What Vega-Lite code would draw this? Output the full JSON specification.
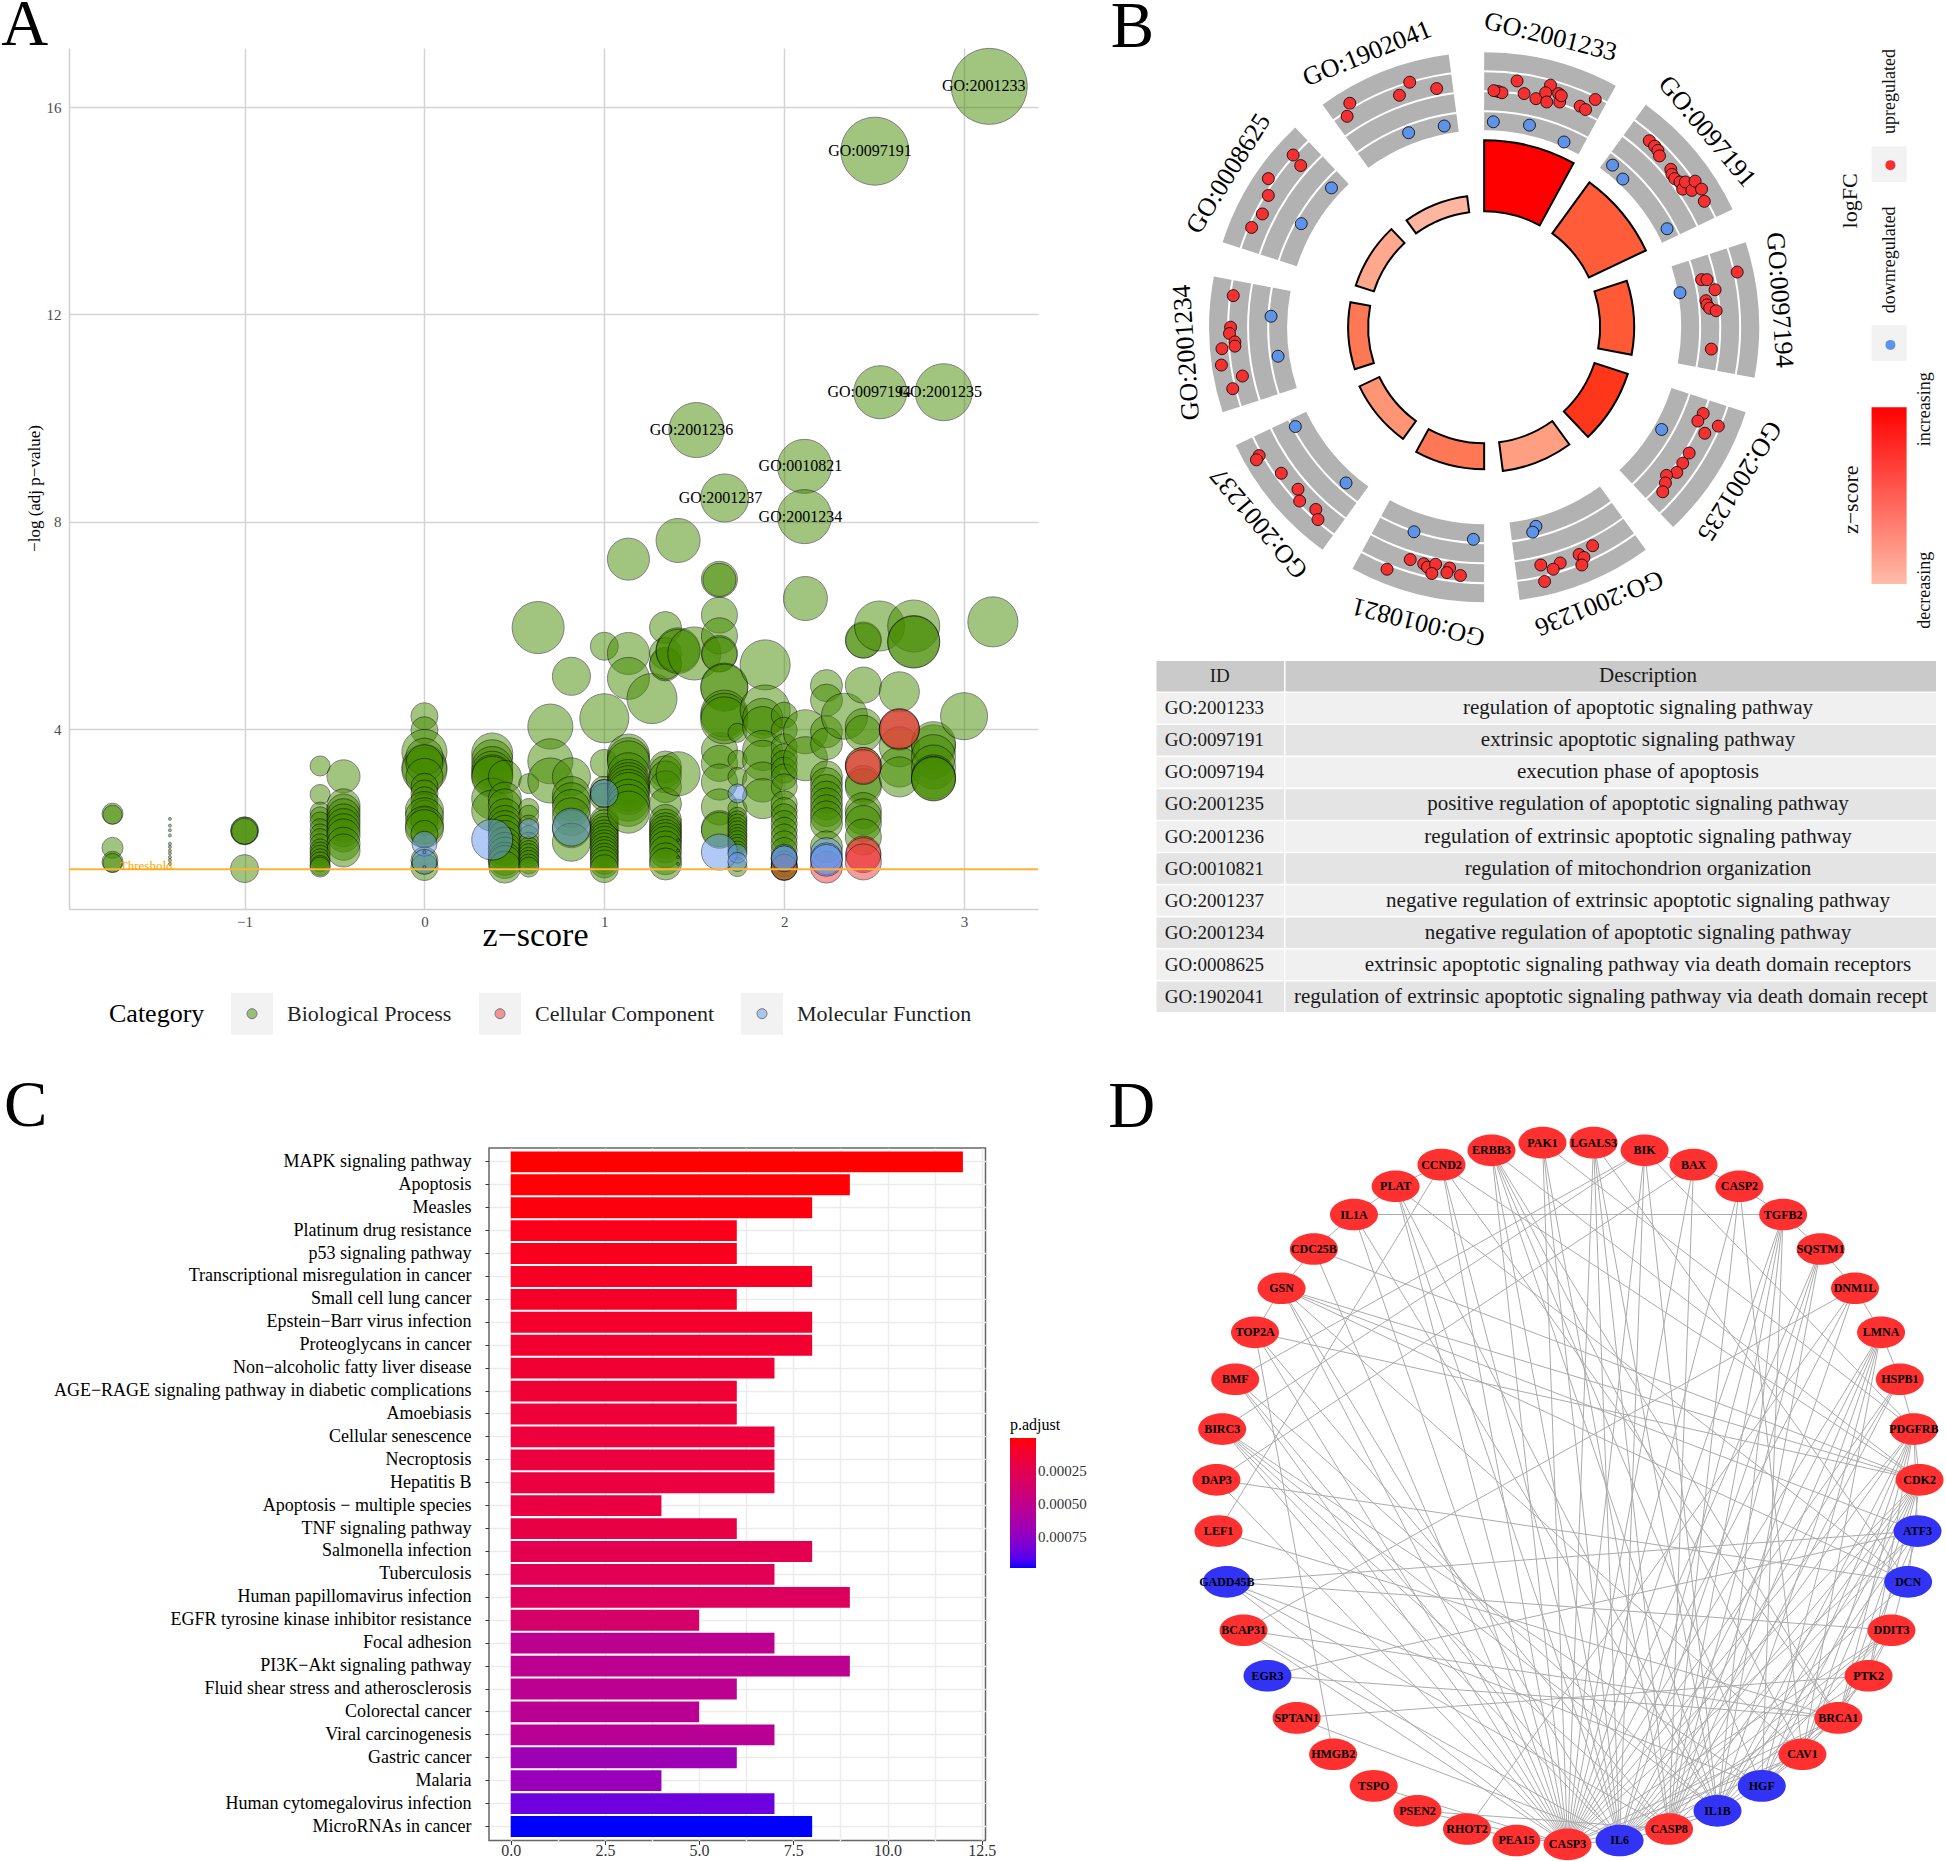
{"$schema":"https://vega.github.io/schema/vega-lite/v6.json","background":"white","padding":{"left":1,"top":-7,"right":0,"bottom":0},"config":{"font":"Liberation Serif","view":{"stroke":null}},"bounds":"flush","spacing":1031,
"datasets":{
"sectors":[{"id":"GO:2001233","start":0,"end":28.6,"r":187,"z":3.14,"lx":835,"ly":85,"angle":14},{"id":"GO:0097191","start":36,"end":64.6,"r":179,"z":2.5,"lx":1125,"ly":310,"angle":50},{"id":"GO:0097194","start":72,"end":100.6,"r":150,"z":2.53,"lx":1260,"ly":710,"angle":86},{"id":"GO:2001235","start":108,"end":136.6,"r":151,"z":2.89,"lx":1185,"ly":1140,"angle":122},{"id":"GO:2001236","start":144,"end":172.6,"r":145,"z":1.51,"lx":925,"ly":1430,"angle":158},{"id":"GO:0010821","start":180,"end":208.6,"r":142,"z":2.11,"lx":590,"ly":1475,"angle":194},{"id":"GO:2001237","start":216,"end":244.6,"r":138,"z":1.67,"lx":295,"ly":1240,"angle":230},{"id":"GO:2001234","start":252,"end":280.6,"r":136,"z":2.11,"lx":160,"ly":835,"angle":266},{"id":"GO:0008625","start":288,"end":316.6,"r":135,"z":1.35,"lx":238,"ly":410,"angle":302},{"id":"GO:1902041","start":324,"end":352.6,"r":132,"z":1.1,"lx":495,"ly":125,"angle":338}],
"genes":[{"f":"up","x":738,"y":215},{"f":"up","x":745,"y":218},{"f":"up","x":730,"y":213},{"f":"up","x":773,"y":190},{"f":"up","x":786,"y":220},{"f":"up","x":808,"y":232},{"f":"up","x":835,"y":200},{"f":"up","x":826,"y":218},{"f":"up","x":828,"y":240},{"f":"up","x":850,"y":220},{"f":"up","x":852,"y":240},{"f":"up","x":855,"y":225},{"f":"up","x":890,"y":250},{"f":"up","x":900,"y":258},{"f":"up","x":918,"y":234},{"f":"down","x":729,"y":287},{"f":"down","x":796,"y":295},{"f":"down","x":860,"y":335},
{"f":"up","x":1018,"y":332},{"f":"up","x":1028,"y":345},{"f":"up","x":1034,"y":355},{"f":"up","x":1037,"y":368},{"f":"up","x":1058,"y":400},{"f":"up","x":1060,"y":412},{"f":"up","x":1065,"y":422},{"f":"up","x":1075,"y":430},{"f":"up","x":1080,"y":447},{"f":"up","x":1085,"y":430},{"f":"up","x":1097,"y":450},{"f":"up","x":1103,"y":428},{"f":"up","x":1115,"y":447},{"f":"up","x":1120,"y":476},{"f":"down","x":950,"y":390},{"f":"down","x":969,"y":423},{"f":"down","x":1051,"y":541},
{"f":"up","x":1181,"y":644},{"f":"up","x":1115,"y":662},{"f":"up","x":1125,"y":662},{"f":"up","x":1140,"y":686},{"f":"up","x":1123,"y":712},{"f":"up","x":1125,"y":722},{"f":"up","x":1130,"y":730},{"f":"up","x":1142,"y":736},{"f":"up","x":1133,"y":827},{"f":"down","x":1075,"y":693},
{"f":"up","x":1118,"y":980},{"f":"up","x":1108,"y":998},{"f":"up","x":1146,"y":1010},{"f":"up","x":1121,"y":1027},{"f":"up","x":1092,"y":1074},{"f":"up","x":1080,"y":1098},{"f":"up","x":1069,"y":1120},{"f":"up","x":1050,"y":1127},{"f":"up","x":1048,"y":1145},{"f":"up","x":1043,"y":1166},{"f":"down","x":1041,"y":1018},
{"f":"down","x":808,"y":1248},{"f":"down","x":802,"y":1262},{"f":"up","x":913,"y":1294},{"f":"up","x":888,"y":1315},{"f":"up","x":897,"y":1322},{"f":"up","x":893,"y":1340},{"f":"up","x":853,"y":1335},{"f":"up","x":840,"y":1350},{"f":"up","x":817,"y":1340},{"f":"up","x":824,"y":1379},
{"f":"down","x":582,"y":1261},{"f":"down","x":692,"y":1279},{"f":"up","x":575,"y":1327},{"f":"up","x":532,"y":1350},{"f":"up","x":600,"y":1337},{"f":"up","x":607,"y":1345},{"f":"up","x":622,"y":1338},{"f":"up","x":615,"y":1360},{"f":"up","x":648,"y":1347},{"f":"up","x":643,"y":1358},{"f":"up","x":668,"y":1365},
{"f":"down","x":362,"y":1011},{"f":"down","x":456,"y":1145},{"f":"up","x":295,"y":1080},{"f":"up","x":290,"y":1090},{"f":"up","x":336,"y":1122},{"f":"up","x":367,"y":1160},{"f":"up","x":370,"y":1188},{"f":"up","x":400,"y":1208},{"f":"up","x":404,"y":1232},
{"f":"up","x":247,"y":700},{"f":"up","x":242,"y":775},{"f":"up","x":240,"y":790},{"f":"up","x":250,"y":810},{"f":"up","x":250,"y":820},{"f":"up","x":226,"y":826},{"f":"up","x":225,"y":865},{"f":"up","x":264,"y":891},{"f":"up","x":246,"y":921},{"f":"down","x":317,"y":749},{"f":"down","x":330,"y":844},
{"f":"up","x":358,"y":366},{"f":"up","x":372,"y":391},{"f":"up","x":312,"y":422},{"f":"up","x":312,"y":462},{"f":"up","x":301,"y":506},{"f":"up","x":281,"y":538},{"f":"down","x":429,"y":444},{"f":"down","x":373,"y":529},
{"f":"up","x":574,"y":193},{"f":"up","x":555,"y":224},{"f":"up","x":624,"y":208},{"f":"up","x":463,"y":243},{"f":"up","x":458,"y":274},{"f":"down","x":572,"y":313},{"f":"down","x":638,"y":297}],
"nodes":[{"name":"PAK1","x":792,"y":64,"reg":"up"},{"name":"LGALS3","x":890,"y":64,"reg":"up"},{"name":"BIK","x":988,"y":80,"reg":"up"},{"name":"BAX","x":1082,"y":110,"reg":"up"},{"name":"CASP2","x":1170,"y":155,"reg":"up"},{"name":"TGFB2","x":1254,"y":214,"reg":"up"},{"name":"SQSTM1","x":1326,"y":286,"reg":"up"},{"name":"DNM1L","x":1392,"y":368,"reg":"up"},{"name":"LMNA","x":1442,"y":460,"reg":"up"},{"name":"HSPB1","x":1478,"y":558,"reg":"up"},{"name":"PDGFRB","x":1505,"y":662,"reg":"up"},{"name":"CDK2","x":1516,"y":768,"reg":"up"},{"name":"ATF3","x":1512,"y":875,"reg":"down"},{"name":"DCN","x":1494,"y":981,"reg":"down"},{"name":"DDIT3","x":1462,"y":1082,"reg":"up"},{"name":"PTK2","x":1418,"y":1177,"reg":"up"},{"name":"BRCA1","x":1360,"y":1265,"reg":"up"},{"name":"CAV1","x":1291,"y":1341,"reg":"up"},{"name":"HGF","x":1213,"y":1407,"reg":"down"},{"name":"IL1B","x":1128,"y":1459,"reg":"down"},{"name":"CASP8","x":1035,"y":1497,"reg":"up"},{"name":"IL6","x":940,"y":1521,"reg":"down"},{"name":"CASP3","x":840,"y":1529,"reg":"up"},{"name":"PEA15","x":742,"y":1521,"reg":"up"},{"name":"RHOT2","x":647,"y":1497,"reg":"up"},{"name":"PSEN2","x":552,"y":1459,"reg":"up"},{"name":"TSPO","x":468,"y":1407,"reg":"up"},{"name":"HMGB2","x":390,"y":1341,"reg":"up"},{"name":"SPTAN1","x":320,"y":1265,"reg":"up"},{"name":"EGR3","x":264,"y":1177,"reg":"down"},{"name":"BCAP31","x":218,"y":1082,"reg":"up"},{"name":"GADD45B","x":186,"y":981,"reg":"down"},{"name":"LEF1","x":170,"y":875,"reg":"up"},{"name":"DAP3","x":166,"y":768,"reg":"up"},{"name":"BIRC3","x":177,"y":662,"reg":"up"},{"name":"BMF","x":202,"y":558,"reg":"up"},{"name":"TOP2A","x":240,"y":460,"reg":"up"},{"name":"GSN","x":291,"y":368,"reg":"up"},{"name":"CDC25B","x":353,"y":286,"reg":"up"},{"name":"IL1A","x":430,"y":214,"reg":"up"},{"name":"PLAT","x":510,"y":155,"reg":"up"},{"name":"CCND2","x":598,"y":110,"reg":"up"},{"name":"ERBB3","x":694,"y":80,"reg":"up"}]
},
"hconcat":[
{"vconcat":[
{"width":969,"height":861,
"encoding":{"x":{"field":"z","type":"quantitative","scale":{"domain":[-1.976,3.411],"nice":false,"zero":false},"axis":{"values":[-1,0,1,2,3],"title":"z−score","titleFontSize":34,"titleFontWeight":"normal","titleX":466,"titleY":9,"titleColor":"black","grid":true,"gridColor":"#d4d4d4","gridWidth":1.5,"domainColor":"#cfcfcf","domainWidth":1.5,"ticks":false,"labelColor":"#4d4d4d","labelFontSize":15,"labelPadding":5}},"y":{"field":"y","type":"quantitative","scale":{"domain":[0.531,17.14],"nice":false,"zero":false},"axis":{"values":[4,8,12,16],"title":"−log (adj p−value)","titleFontSize":17,"titleFontWeight":"normal","titleX":-26,"titleY":440,"titleColor":"black","grid":true,"gridColor":"#d4d4d4","gridWidth":1.5,"domainColor":"#cfcfcf","domainWidth":1.5,"ticks":false,"labelColor":"#4d4d4d","labelFontSize":15,"labelPadding":8}}},
"layer":[
{"data":{"values":[
{"c":"B","z":3.14,"y":16.4,"n":76},{"c":"B","z":2.504,"y":15.15,"n":68},{"c":"B","z":2.534,"y":10.5,"n":53},{"c":"B","z":2.887,"y":10.5,"n":57},{"c":"B","z":1.512,"y":9.77,"n":55},{"c":"B","z":2.113,"y":9.07,"n":54},{"c":"B","z":1.669,"y":8.46,"n":48},{"c":"B","z":2.113,"y":8.1,"n":54},
{"c":"B","z":-1.734,"y":2.37,"n":21},{"c":"B","z":-1.734,"y":2.35,"n":19},{"c":"B","z":-1.734,"y":1.71,"n":21},{"c":"B","z":-1.734,"y":1.44,"n":21},{"c":"B","z":-1.734,"y":1.42,"n":19},
{"c":"B","z":-1.415,"y":2.27,"n":3},{"c":"B","z":-1.415,"y":2.14,"n":3},{"c":"B","z":-1.415,"y":2.05,"n":3},{"c":"B","z":-1.415,"y":1.95,"n":3},{"c":"B","z":-1.415,"y":1.79,"n":3},{"c":"B","z":-1.415,"y":1.73,"n":3},{"c":"B","z":-1.415,"y":1.66,"n":3},{"c":"B","z":-1.415,"y":1.6,"n":3},{"c":"B","z":-1.415,"y":1.53,"n":3},{"c":"B","z":-1.415,"y":1.47,"n":3},{"c":"B","z":-1.415,"y":1.4,"n":3},
{"c":"B","z":-1,"y":2.04,"n":28},{"c":"B","z":-1,"y":2.04,"n":27},{"c":"B","z":-1,"y":2.03,"n":26},{"c":"B","z":-1,"y":1.31,"n":28},
{"c":"B","z":-0.58,"y":3.29,"n":20},{"c":"B","z":-0.58,"y":2.74,"n":20},{"c":"B","z":-0.58,"y":2.4,"n":20},{"c":"B","z":-0.58,"y":2.31,"n":20},{"c":"B","z":-0.58,"y":2.21,"n":20},{"c":"B","z":-0.58,"y":2.08,"n":20},{"c":"B","z":-0.58,"y":1.98,"n":20},{"c":"B","z":-0.58,"y":1.89,"n":20},{"c":"B","z":-0.58,"y":1.79,"n":20},{"c":"B","z":-0.58,"y":1.69,"n":20},{"c":"B","z":-0.58,"y":1.63,"n":20},{"c":"B","z":-0.58,"y":1.57,"n":20},{"c":"B","z":-0.58,"y":1.5,"n":20},{"c":"B","z":-0.58,"y":1.44,"n":20},{"c":"B","z":-0.58,"y":1.37,"n":20},{"c":"B","z":-0.58,"y":1.34,"n":20},
{"c":"B","z":-0.45,"y":3.09,"n":33},{"c":"B","z":-0.45,"y":2.53,"n":33},{"c":"B","z":-0.45,"y":2.43,"n":33},{"c":"B","z":-0.45,"y":2.34,"n":33},{"c":"B","z":-0.45,"y":2.24,"n":33},{"c":"B","z":-0.45,"y":2.15,"n":33},{"c":"B","z":-0.45,"y":2.05,"n":33},{"c":"B","z":-0.45,"y":1.95,"n":33},{"c":"B","z":-0.45,"y":1.79,"n":33},{"c":"B","z":-0.45,"y":1.66,"n":33},
{"c":"B","z":0,"y":4.25,"n":27},{"c":"B","z":0,"y":3.98,"n":27},{"c":"B","z":0,"y":3.56,"n":45},{"c":"B","z":0,"y":3.27,"n":45},{"c":"B","z":0,"y":3.21,"n":45},{"c":"B","z":0,"y":3.47,"n":37},{"c":"B","z":0,"y":3.34,"n":37},{"c":"B","z":0,"y":3.08,"n":37},{"c":"B","z":0,"y":2.89,"n":27},{"c":"B","z":0,"y":2.76,"n":27},{"c":"B","z":0,"y":2.63,"n":27},{"c":"B","z":0,"y":2.5,"n":27},{"c":"B","z":0,"y":2.43,"n":38},{"c":"B","z":0,"y":2.37,"n":27},{"c":"B","z":0,"y":2.31,"n":38},{"c":"B","z":0,"y":2.24,"n":27},{"c":"B","z":0,"y":2.15,"n":38},{"c":"B","z":0,"y":2.08,"n":38},{"c":"B","z":0,"y":1.98,"n":27},{"c":"B","z":0,"y":1.47,"n":27},{"c":"B","z":0,"y":1.34,"n":27},
{"c":"B","z":0.377,"y":3.53,"n":41},{"c":"B","z":0.377,"y":3.4,"n":41},{"c":"B","z":0.377,"y":3.27,"n":41},{"c":"B","z":0.377,"y":3.18,"n":41},{"c":"B","z":0.377,"y":3.11,"n":41},{"c":"B","z":0.377,"y":3.08,"n":41},{"c":"B","z":0.377,"y":2.66,"n":41},{"c":"B","z":0.377,"y":2.43,"n":41},
{"c":"B","z":0.447,"y":3.08,"n":33},{"c":"B","z":0.447,"y":2.66,"n":33},{"c":"B","z":0.447,"y":2.53,"n":33},{"c":"B","z":0.447,"y":2.34,"n":33},{"c":"B","z":0.447,"y":2.21,"n":33},{"c":"B","z":0.447,"y":2.11,"n":33},{"c":"B","z":0.447,"y":2.02,"n":33},{"c":"B","z":0.447,"y":1.92,"n":33},{"c":"B","z":0.447,"y":1.79,"n":33},{"c":"B","z":0.447,"y":1.69,"n":33},{"c":"B","z":0.447,"y":1.6,"n":33},{"c":"B","z":0.447,"y":1.5,"n":33},{"c":"B","z":0.447,"y":1.44,"n":33},{"c":"B","z":0.447,"y":1.34,"n":32},
{"c":"B","z":0.58,"y":2.95,"n":20},{"c":"B","z":0.58,"y":2.47,"n":20},{"c":"B","z":0.58,"y":2.34,"n":20},{"c":"B","z":0.58,"y":2.15,"n":20},{"c":"B","z":0.58,"y":1.95,"n":20},{"c":"B","z":0.58,"y":1.82,"n":20},{"c":"B","z":0.58,"y":1.73,"n":20},{"c":"B","z":0.58,"y":1.66,"n":20},{"c":"B","z":0.58,"y":1.6,"n":20},{"c":"B","z":0.58,"y":1.53,"n":20},{"c":"B","z":0.58,"y":1.47,"n":20},{"c":"B","z":0.58,"y":1.4,"n":20},{"c":"B","z":0.58,"y":1.34,"n":20},
{"c":"B","z":0.632,"y":5.96,"n":52},{"c":"B","z":0.7,"y":4.05,"n":45},{"c":"B","z":0.7,"y":3.38,"n":45},{"c":"B","z":0.7,"y":3.01,"n":45},
{"c":"B","z":0.817,"y":5.02,"n":38},{"c":"B","z":0.817,"y":3.08,"n":38},{"c":"B","z":0.817,"y":2.72,"n":38},{"c":"B","z":0.817,"y":2.6,"n":38},{"c":"B","z":0.817,"y":2.47,"n":38},{"c":"B","z":0.817,"y":2.31,"n":38},{"c":"B","z":0.817,"y":2.08,"n":38},{"c":"B","z":0.817,"y":1.82,"n":38},
{"c":"B","z":1,"y":4.21,"n":49},{"c":"B","z":1,"y":5.6,"n":28},{"c":"B","z":1,"y":3.34,"n":28},{"c":"B","z":1,"y":2.82,"n":28},{"c":"B","z":1,"y":2.76,"n":28},{"c":"B","z":1,"y":2.69,"n":28},{"c":"B","z":1,"y":2.24,"n":28},{"c":"B","z":1,"y":2.18,"n":28},{"c":"B","z":1,"y":2.11,"n":28},{"c":"B","z":1,"y":2.05,"n":28},{"c":"B","z":1,"y":1.98,"n":28},{"c":"B","z":1,"y":1.92,"n":28},{"c":"B","z":1,"y":1.86,"n":28},{"c":"B","z":1,"y":1.79,"n":28},{"c":"B","z":1,"y":1.73,"n":28},{"c":"B","z":1,"y":1.66,"n":28},{"c":"B","z":1,"y":1.6,"n":28},{"c":"B","z":1,"y":1.53,"n":28},{"c":"B","z":1,"y":1.47,"n":28},{"c":"B","z":1,"y":1.4,"n":28},{"c":"B","z":1,"y":1.31,"n":28},
{"c":"B","z":1.134,"y":7.28,"n":42},{"c":"B","z":1.134,"y":5.46,"n":42},{"c":"B","z":1.134,"y":4.98,"n":42},{"c":"B","z":1.134,"y":3.5,"n":42},{"c":"B","z":1.134,"y":3.43,"n":42},{"c":"B","z":1.134,"y":3.37,"n":42},{"c":"B","z":1.134,"y":3.14,"n":42},{"c":"B","z":1.134,"y":3.01,"n":42},{"c":"B","z":1.134,"y":2.95,"n":42},{"c":"B","z":1.134,"y":2.89,"n":42},{"c":"B","z":1.134,"y":2.82,"n":42},{"c":"B","z":1.134,"y":2.76,"n":42},{"c":"B","z":1.134,"y":2.63,"n":42},{"c":"B","z":1.134,"y":2.53,"n":42},{"c":"B","z":1.134,"y":2.4,"n":42},
{"c":"B","z":1.265,"y":4.59,"n":50},{"c":"B","z":1.34,"y":5.96,"n":32},{"c":"B","z":1.34,"y":5.46,"n":32},{"c":"B","z":1.34,"y":5.24,"n":32},{"c":"B","z":1.34,"y":5.27,"n":32},{"c":"B","z":1.34,"y":3.27,"n":32},{"c":"B","z":1.34,"y":3.18,"n":32},{"c":"B","z":1.34,"y":3.08,"n":32},{"c":"B","z":1.34,"y":2.89,"n":32},{"c":"B","z":1.34,"y":2.56,"n":32},{"c":"B","z":1.34,"y":2.24,"n":32},{"c":"B","z":1.34,"y":2.15,"n":32},{"c":"B","z":1.34,"y":2.08,"n":32},{"c":"B","z":1.34,"y":2.02,"n":32},{"c":"B","z":1.34,"y":1.95,"n":32},{"c":"B","z":1.34,"y":1.89,"n":32},{"c":"B","z":1.34,"y":1.82,"n":32},{"c":"B","z":1.34,"y":1.73,"n":32},{"c":"B","z":1.34,"y":1.63,"n":32},{"c":"B","z":1.34,"y":1.5,"n":32},{"c":"B","z":1.34,"y":1.4,"n":32},
{"c":"B","z":1.41,"y":7.64,"n":44},{"c":"B","z":1.41,"y":5.53,"n":44},{"c":"B","z":1.41,"y":5.5,"n":44},{"c":"B","z":1.41,"y":3.14,"n":44},{"c":"B","z":1.5,"y":5.46,"n":53},
{"c":"B","z":1.41,"y":1.86,"n":3},{"c":"B","z":1.41,"y":1.66,"n":3},{"c":"B","z":1.41,"y":1.53,"n":3},{"c":"B","z":1.41,"y":1.4,"n":3},
{"c":"B","z":1.64,"y":6.89,"n":36},{"c":"B","z":1.64,"y":6.88,"n":33},{"c":"B","z":1.64,"y":6.2,"n":36},{"c":"B","z":1.64,"y":5.8,"n":36},{"c":"B","z":1.64,"y":5.46,"n":36},{"c":"B","z":1.64,"y":5.44,"n":35},{"c":"B","z":1.64,"y":3.59,"n":36},{"c":"B","z":1.64,"y":3.34,"n":36},{"c":"B","z":1.64,"y":2.98,"n":36},{"c":"B","z":1.64,"y":2.5,"n":36},{"c":"B","z":1.64,"y":2.08,"n":36},{"c":"B","z":1.64,"y":2.05,"n":36},
{"c":"B","z":1.667,"y":4.82,"n":47},{"c":"B","z":1.667,"y":4.8,"n":47},{"c":"B","z":1.667,"y":4.3,"n":47},{"c":"B","z":1.667,"y":4.24,"n":47},{"c":"B","z":1.667,"y":4.17,"n":47},
{"c":"B","z":1.74,"y":3.93,"n":19},{"c":"B","z":1.74,"y":3.41,"n":19},{"c":"B","z":1.74,"y":3.08,"n":19},{"c":"B","z":1.74,"y":2.47,"n":19},{"c":"B","z":1.74,"y":2.31,"n":19},{"c":"B","z":1.74,"y":2.24,"n":19},{"c":"B","z":1.74,"y":2.18,"n":19},{"c":"B","z":1.74,"y":2.11,"n":19},{"c":"B","z":1.74,"y":2.05,"n":19},{"c":"B","z":1.74,"y":1.98,"n":19},{"c":"B","z":1.74,"y":1.92,"n":19},{"c":"B","z":1.74,"y":1.86,"n":19},{"c":"B","z":1.74,"y":1.79,"n":19},{"c":"B","z":1.74,"y":1.73,"n":19},{"c":"B","z":1.74,"y":1.66,"n":19},{"c":"B","z":1.74,"y":1.34,"n":19},
{"c":"B","z":1.894,"y":5.24,"n":50},{"c":"B","z":1.894,"y":4.37,"n":50},{"c":"B","z":1.88,"y":4.21,"n":40},{"c":"B","z":1.88,"y":4.05,"n":40},{"c":"B","z":1.88,"y":3.59,"n":40},{"c":"B","z":1.88,"y":3.4,"n":40},{"c":"B","z":1.88,"y":2.98,"n":40},{"c":"B","z":1.88,"y":2.66,"n":40},
{"c":"B","z":2,"y":4.27,"n":26},{"c":"B","z":2,"y":3.98,"n":26},{"c":"B","z":2,"y":3.66,"n":26},{"c":"B","z":2,"y":3.47,"n":26},{"c":"B","z":2,"y":3.34,"n":26},{"c":"B","z":2,"y":3.21,"n":26},{"c":"B","z":2,"y":3.08,"n":26},{"c":"B","z":2,"y":2.89,"n":26},{"c":"B","z":2,"y":2.56,"n":26},{"c":"B","z":2,"y":2.43,"n":26},{"c":"B","z":2,"y":2.31,"n":26},{"c":"B","z":2,"y":2.18,"n":26},{"c":"B","z":2,"y":2.05,"n":26},{"c":"B","z":2,"y":1.92,"n":26},{"c":"B","z":2,"y":1.79,"n":26},{"c":"B","z":2,"y":1.66,"n":26},{"c":"B","z":2,"y":1.5,"n":26},{"c":"B","z":2,"y":1.4,"n":26},{"c":"B","z":2,"y":1.34,"n":26},{"c":"B","z":2,"y":1.33,"n":26},
{"c":"B","z":2.118,"y":6.52,"n":44},{"c":"B","z":2.118,"y":3.95,"n":44},{"c":"B","z":2.118,"y":3.43,"n":44},
{"c":"B","z":2.235,"y":4.84,"n":32},{"c":"B","z":2.235,"y":4.56,"n":32},{"c":"B","z":2.235,"y":3.95,"n":32},{"c":"B","z":2.235,"y":3.72,"n":32},{"c":"B","z":2.235,"y":3.08,"n":32},{"c":"B","z":2.235,"y":2.95,"n":32},{"c":"B","z":2.235,"y":2.82,"n":32},{"c":"B","z":2.235,"y":2.69,"n":32},{"c":"B","z":2.235,"y":2.56,"n":32},{"c":"B","z":2.235,"y":2.43,"n":32},{"c":"B","z":2.235,"y":2.31,"n":32},{"c":"B","z":2.235,"y":2.18,"n":32},{"c":"B","z":2.235,"y":1.73,"n":32},{"c":"B","z":2.335,"y":4.25,"n":46},
{"c":"B","z":2.44,"y":4.85,"n":36},{"c":"B","z":2.44,"y":4.05,"n":36},{"c":"B","z":2.44,"y":3.92,"n":36},{"c":"B","z":2.44,"y":5.72,"n":36},{"c":"B","z":2.44,"y":5.71,"n":35},{"c":"B","z":2.44,"y":3.3,"n":36},{"c":"B","z":2.44,"y":2.95,"n":36},{"c":"B","z":2.44,"y":2.89,"n":36},{"c":"B","z":2.44,"y":2.43,"n":36},{"c":"B","z":2.44,"y":2.31,"n":36},{"c":"B","z":2.44,"y":2.18,"n":36},{"c":"B","z":2.44,"y":1.92,"n":36},
{"c":"B","z":2.53,"y":5.99,"n":50},{"c":"B","z":2.64,"y":4.72,"n":40},{"c":"B","z":2.64,"y":3.98,"n":40},{"c":"B","z":2.64,"y":3.66,"n":40},{"c":"B","z":2.64,"y":3.27,"n":40},{"c":"B","z":2.64,"y":3.08,"n":40},
{"c":"B","z":2.72,"y":5.99,"n":52},{"c":"B","z":2.72,"y":5.69,"n":52},{"c":"B","z":2.72,"y":5.68,"n":52},
{"c":"B","z":2.83,"y":3.66,"n":44},{"c":"B","z":2.83,"y":3.72,"n":44},{"c":"B","z":2.83,"y":3.47,"n":44},{"c":"B","z":2.83,"y":3.27,"n":44},{"c":"B","z":2.83,"y":3.08,"n":44},{"c":"B","z":2.83,"y":3.05,"n":44},{"c":"B","z":2.83,"y":3.04,"n":44},
{"c":"B","z":3,"y":4.25,"n":47},{"c":"B","z":3.16,"y":6.07,"n":50},
{"c":"C","z":2,"y":1.34,"n":26},{"c":"C","z":2.235,"y":1.34,"n":32},{"c":"C","z":2.44,"y":3.3,"n":36},{"c":"C","z":2.44,"y":3.27,"n":35},{"c":"C","z":2.44,"y":1.6,"n":35},{"c":"C","z":2.44,"y":1.57,"n":35},{"c":"C","z":2.44,"y":1.44,"n":36},{"c":"C","z":2.64,"y":4.01,"n":40},{"c":"C","z":2.64,"y":4.0,"n":40},
{"c":"M","z":0,"y":1.79,"n":25},{"c":"M","z":0,"y":1.44,"n":25},{"c":"M","z":0,"y":1.63,"n":3},{"c":"M","z":0,"y":1.34,"n":3},{"c":"M","z":0.377,"y":1.87,"n":41},{"c":"M","z":0.58,"y":2.08,"n":20},{"c":"M","z":0.817,"y":2.11,"n":38},{"c":"M","z":1,"y":2.76,"n":28},{"c":"M","z":1.64,"y":1.63,"n":36},{"c":"M","z":1.74,"y":2.76,"n":19},{"c":"M","z":1.74,"y":1.6,"n":19},{"c":"M","z":1.74,"y":1.44,"n":19},{"c":"M","z":2,"y":1.53,"n":26},{"c":"M","z":2,"y":1.5,"n":26},{"c":"M","z":2.235,"y":1.6,"n":32},{"c":"M","z":2.235,"y":1.5,"n":32},{"c":"M","z":2.235,"y":1.47,"n":32}
]},"mark":{"type":"point","filled":true,"opacity":0.5,"stroke":"black","strokeWidth":1},"encoding":{"color":{"field":"c","type":"nominal","scale":{"domain":["B","C","M"],"range":["#458B00","#EE3B3B","#6495ED"]},"legend":null},"size":{"field":"n","type":"quantitative","scale":{"type":"pow","exponent":2,"domain":[0,76],"range":[0,5776]},"legend":null}}},
{"data":{"values":[{"z":-1.976,"z2":3.411,"y":1.3}]},"mark":{"type":"rule","color":"#FFB233","strokeWidth":2},"encoding":{"x2":{"field":"z2"}}},
{"data":{"values":[{"t":"Threshold","z":-1.547,"y":1.37}]},"mark":{"type":"text","color":"#FFA500","fontSize":13},"encoding":{"text":{"field":"t"}}},
{"data":{"values":[{"id":"GO:2001233","z":3.109,"y":16.4},{"id":"GO:0097191","z":2.477,"y":15.15},{"id":"GO:0097194","z":2.473,"y":10.5},{"id":"GO:2001235","z":2.868,"y":10.5},{"id":"GO:2001236","z":1.485,"y":9.77},{"id":"GO:0010821","z":2.09,"y":9.07},{"id":"GO:2001237","z":1.646,"y":8.46},{"id":"GO:2001234","z":2.09,"y":8.1}]},"mark":{"type":"text","color":"black","fontSize":16},"encoding":{"text":{"field":"id"}}},
{"data":{"values":[{"t":"A","z":-2.353,"y":17.19}]},"mark":{"type":"text","align":"left","baseline":"alphabetic","fontSize":65,"color":"black"},"encoding":{"text":{"field":"t"}}}
]},
{"width":969,"height":238.7,"data":{"values":[{"Category":"Biological Process","order":1,"yy":104.7},{"Category":"Cellular Component","order":2,"yy":104.7},{"Category":"Molecular Function","order":3,"yy":104.7}]},
"encoding":{"x":{"field":"order","type":"quantitative","scale":{"domain":[0,1,2,3],"range":[40,183,431,693]},"axis":null},"y":{"field":"yy","type":"quantitative","scale":{"domain":[238.7,0],"nice":false,"zero":false},"axis":null}},
"layer":[
{"mark":{"type":"point","shape":"square","filled":true,"size":1764,"color":"#F2F2F2","opacity":1}},
{"mark":{"type":"point","filled":true,"size":100,"opacity":0.5,"stroke":"black","strokeWidth":1},"encoding":{"color":{"field":"Category","type":"nominal","scale":{"domain":["Biological Process","Cellular Component","Molecular Function"],"range":["#458B00","#EE3B3B","#6495ED"]},"legend":null}}},
{"mark":{"type":"text","align":"left","dx":35,"fontSize":22,"color":"#222222"},"encoding":{"text":{"field":"Category"}}},
{"data":{"values":[{"t":"Category","order":0,"yy":104.7}]},"mark":{"type":"text","align":"left","fontSize":26,"color":"black"},"encoding":{"text":{"field":"t"}}},
{"data":{"values":[{"t":"C","order":-0.734,"yy":216.7}]},"mark":{"type":"text","align":"left","baseline":"alphabetic","fontSize":65,"color":"black"},"encoding":{"text":{"field":"t"}}}
]},
{"hconcat":[
{"width":419.5,"height":1,"data":{"values":[{}]},"mark":{"type":"rule","opacity":0},"encoding":{}},
{"width":496.5,"height":692.4,"view":{"stroke":"#666666","strokeWidth":1.5},
"data":{"values":[{"p":"MAPK signaling pathway","n":12,"a":0.000001},{"p":"Apoptosis","n":9,"a":0.00001},{"p":"Measles","n":8,"a":0.00002},{"p":"Platinum drug resistance","n":6,"a":0.00005},{"p":"p53 signaling pathway","n":6,"a":0.00006},{"p":"Transcriptional misregulation in cancer","n":8,"a":0.00008},{"p":"Small cell lung cancer","n":6,"a":0.00009},{"p":"Epstein−Barr virus infection","n":8,"a":0.00011},{"p":"Proteoglycans in cancer","n":8,"a":0.00012},{"p":"Non−alcoholic fatty liver disease","n":7,"a":0.00013},{"p":"AGE−RAGE signaling pathway in diabetic complications","n":6,"a":0.00014},{"p":"Amoebiasis","n":6,"a":0.00015},{"p":"Cellular senescence","n":7,"a":0.00016},{"p":"Necroptosis","n":7,"a":0.00017},{"p":"Hepatitis B","n":7,"a":0.00018},{"p":"Apoptosis − multiple species","n":4,"a":0.00019},{"p":"TNF signaling pathway","n":6,"a":0.0002},{"p":"Salmonella infection","n":8,"a":0.00024},{"p":"Tuberculosis","n":7,"a":0.00026},{"p":"Human papillomavirus infection","n":9,"a":0.0003},{"p":"EGFR tyrosine kinase inhibitor resistance","n":5,"a":0.00035},{"p":"Focal adhesion","n":7,"a":0.00052},{"p":"PI3K−Akt signaling pathway","n":9,"a":0.00052},{"p":"Fluid shear stress and atherosclerosis","n":6,"a":0.00052},{"p":"Colorectal cancer","n":5,"a":0.00053},{"p":"Viral carcinogenesis","n":7,"a":0.00054},{"p":"Gastric cancer","n":6,"a":0.00068},{"p":"Malaria","n":4,"a":0.0007},{"p":"Human cytomegalovirus infection","n":7,"a":0.00085},{"p":"MicroRNAs in cancer","n":8,"a":0.00098}]},
"mark":{"type":"bar"},
"encoding":{"y":{"field":"p","type":"nominal","sort":null,"scale":{"type":"band","paddingInner":0.09,"paddingOuter":0.15},"axis":{"title":null,"labelFontSize":18,"labelColor":"black","labelLimit":0,"labelPadding":14,"tickSize":4,"tickColor":"#333333","grid":true,"gridColor":"#ebebeb","gridWidth":1.5,"domain":false}},"x":{"field":"n","type":"quantitative","scale":{"domain":[-0.576,12.6],"nice":false,"zero":false},"axis":{"title":null,"values":[0,1.25,2.5,3.75,5,6.25,7.5,8.75,10,11.25,12.5],"labelExpr":"datum.value % 2.5 == 0 ? format(datum.value,'.1f') : ''","labelFontSize":16,"labelColor":"#333333","labelPadding":-2,"labelOverlap":false,"tickSize":4,"tickColor":"#333333","tickOpacity":{"condition":{"test":"datum.value % 2.5 != 0","value":0},"value":1},"grid":true,"gridColor":"#ececec","gridWidth":1.5,"domain":false}},"color":{"field":"a","type":"quantitative","scale":{"domain":[0.00098,0],"range":["#0000FF","#FF0000"],"interpolate":"lab"},"legend":{"orient":"none","legendX":941,"legendY":269,"title":"p.adjust","titleFontSize":16,"titleFontWeight":"normal","titleColor":"black","labelFontSize":15,"labelColor":"#333333","values":[0.00025,0.0005,0.00075],"format":".5f","gradientLength":130,"gradientThickness":26}}}}
],"spacing":0,"bounds":"flush"}
],"spacing":0,"bounds":"flush"},
{"vconcat":[
{"width":846,"height":613,
"layer":[
{"data":{"name":"sectors"},"transform":[{"calculate":"712","as":"cx"},{"calculate":"775","as":"cy"},{"calculate":"197","as":"ra"},{"calculate":"275","as":"rb"}],"mark":{"type":"arc","color":"#B2B2B2"},"encoding":{"x":{"field":"cx","type":"quantitative","scale":{"domain":[0,1568],"nice":false,"zero":false},"axis":null},"y":{"field":"cy","type":"quantitative","scale":{"domain":[1568,111.7],"nice":false,"zero":false},"axis":null},"theta":{"field":"start","type":"quantitative","scale":{"domain":[0,360],"range":[0,6.28319]}},"theta2":{"field":"end"},"radius":{"field":"ra","type":"quantitative","scale":{"type":"linear","domain":[0,300],"range":[0,300]}},"radius2":{"field":"rb"}}},
{"data":{"values":[{"r0":215,"r1":217},{"r0":235,"r1":237},{"r0":255,"r1":257}]},"transform":[{"calculate":"712","as":"cx"},{"calculate":"775","as":"cy"},{"calculate":"0","as":"start"},{"calculate":"360","as":"end"}],"mark":{"type":"arc","color":"white"},"encoding":{"x":{"field":"cx","type":"quantitative","axis":null},"y":{"field":"cy","type":"quantitative","axis":null},"theta":{"field":"start","type":"quantitative"},"theta2":{"field":"end"},"radius":{"field":"r0","type":"quantitative"},"radius2":{"field":"r1"}}},
{"data":{"name":"sectors"},"transform":[{"calculate":"712","as":"cx"},{"calculate":"775","as":"cy"},{"calculate":"116","as":"rc"}],"mark":{"type":"arc","stroke":"black","strokeWidth":2},"encoding":{"x":{"field":"cx","type":"quantitative","axis":null},"y":{"field":"cy","type":"quantitative","axis":null},"theta":{"field":"start","type":"quantitative"},"theta2":{"field":"end"},"radius":{"field":"rc","type":"quantitative"},"radius2":{"field":"r"},"color":{"field":"z","type":"quantitative","scale":{"domain":[1.0,3.14],"range":["#FFBCA8","#FF0000"]},"legend":null}}},
{"data":{"name":"genes"},"mark":{"type":"point","filled":true,"size":144,"stroke":"black","strokeWidth":0.8,"opacity":1},"encoding":{"x":{"field":"x","type":"quantitative","axis":null},"y":{"field":"y","type":"quantitative","axis":null},"fill":{"field":"f","type":"nominal","scale":{"domain":["up","down"],"range":["#F53030","#5F93E8"]},"legend":null}}},
{"data":{"name":"sectors"},"mark":{"type":"text","fontSize":26,"color":"black"},"encoding":{"x":{"field":"lx","type":"quantitative","axis":null},"y":{"field":"ly","type":"quantitative","axis":null},"text":{"field":"id"},"angle":{"field":"angle","type":"quantitative","scale":null}}},
{"data":{"values":[{"x0":1430,"x1":1495,"y0":345,"y1":430},{"x0":1430,"x1":1495,"y0":770,"y1":855}]},"mark":{"type":"rect","color":"#F2F2F2"},"encoding":{"x":{"field":"x0","type":"quantitative","axis":null},"x2":{"field":"x1"},"y":{"field":"y0","type":"quantitative","axis":null},"y2":{"field":"y1"}}},
{"data":{"values":[{"f":"up","x":1465,"y":390},{"f":"down","x":1465,"y":817}]},"mark":{"type":"point","filled":true,"size":100,"opacity":1},"encoding":{"x":{"field":"x","type":"quantitative","axis":null},"y":{"field":"y","type":"quantitative","axis":null},"fill":{"field":"f","type":"nominal","legend":null}}},
{"data":{"values":[{"x0":1430,"x1":1495,"y0":965,"y1":1385}]},"mark":{"type":"rect","color":{"gradient":"linear","x1":0,"y1":0,"x2":0,"y2":1,"stops":[{"offset":0,"color":"#FF0000"},{"offset":1,"color":"#FFBCA8"}]}},"encoding":{"x":{"field":"x0","type":"quantitative","axis":null},"x2":{"field":"x1"},"y":{"field":"y0","type":"quantitative","axis":null},"y2":{"field":"y1"}}},
{"data":{"values":[{"t":"logFC","x":1390,"y":475,"s":22},{"t":"z−score","x":1392,"y":1185,"s":22},{"t":"upregulated","x":1465,"y":215,"s":18},{"t":"downregulated","x":1465,"y":615,"s":18},{"t":"increasing","x":1530,"y":970,"s":18},{"t":"decreasing","x":1530,"y":1400,"s":18}]},"mark":{"type":"text","angle":270,"color":"#111111"},"encoding":{"x":{"field":"x","type":"quantitative","axis":null},"y":{"field":"y","type":"quantitative","axis":null},"text":{"field":"t"},"size":{"field":"s","type":"quantitative","scale":null}}},
{"data":{"values":[{"t":"B","x":20,"y":110}]},"mark":{"type":"text","align":"left","baseline":"alphabetic","fontSize":65,"color":"black"},"encoding":{"x":{"field":"x","type":"quantitative","axis":null},"y":{"field":"y","type":"quantitative","axis":null},"text":{"field":"t"}}}
]},
{"width":846,"height":351,
"data":{"values":[{"id":"ID","desc":"Description","kind":"header"},{"id":"GO:2001233","desc":"regulation of apoptotic signaling pathway","kind":"odd"},{"id":"GO:0097191","desc":"extrinsic apoptotic signaling pathway","kind":"even"},{"id":"GO:0097194","desc":"execution phase of apoptosis","kind":"odd"},{"id":"GO:2001235","desc":"positive regulation of apoptotic signaling pathway","kind":"even"},{"id":"GO:2001236","desc":"regulation of extrinsic apoptotic signaling pathway","kind":"odd"},{"id":"GO:0010821","desc":"regulation of mitochondrion organization","kind":"even"},{"id":"GO:2001237","desc":"negative regulation of extrinsic apoptotic signaling pathway","kind":"odd"},{"id":"GO:2001234","desc":"negative regulation of apoptotic signaling pathway","kind":"even"},{"id":"GO:0008625","desc":"extrinsic apoptotic signaling pathway via death domain receptors","kind":"odd"},{"id":"GO:1902041","desc":"regulation of extrinsic apoptotic signaling pathway via death domain receptors","kind":"long"}]},
"encoding":{"y":{"field":"id","type":"nominal","sort":null,"scale":{"type":"band","paddingInner":0.05,"paddingOuter":0},"axis":null}},
"layer":[
{"transform":[{"calculate":"1156.5","as":"a"},{"calculate":"1284","as":"b"}],"mark":{"type":"rect"},"encoding":{"x":{"field":"a","type":"quantitative","scale":{"domain":[1100,1946],"nice":false,"zero":false},"axis":null},"x2":{"field":"b"},"color":{"field":"kind","type":"nominal","scale":{"domain":["header","odd","even","long"],"range":["#CACACA","#F0F0F0","#E4E4E4","#E4E4E4"]},"legend":null}}},
{"transform":[{"calculate":"1285.5","as":"a"},{"calculate":"1936","as":"b"}],"mark":{"type":"rect"},"encoding":{"x":{"field":"a","type":"quantitative"},"x2":{"field":"b"},"color":{"field":"kind","type":"nominal","legend":null}}},
{"transform":[{"filter":"datum.kind != 'header'"},{"calculate":"1164.7","as":"a"}],"mark":{"type":"text","align":"left","fontSize":19,"color":"#1a1a1a"},"encoding":{"x":{"field":"a","type":"quantitative"},"text":{"field":"id"}}},
{"transform":[{"filter":"datum.kind == 'header'"},{"calculate":"1219.7","as":"a"}],"mark":{"type":"text","fontSize":19,"color":"#1a1a1a"},"encoding":{"x":{"field":"a","type":"quantitative"},"text":{"field":"id"}}},
{"transform":[{"filter":"datum.kind == 'header'"},{"calculate":"1648","as":"a"}],"mark":{"type":"text","fontSize":21,"color":"#1a1a1a"},"encoding":{"x":{"field":"a","type":"quantitative"},"text":{"field":"desc"}}},
{"transform":[{"filter":"datum.kind == 'odd' || datum.kind == 'even'"},{"calculate":"1638","as":"a"}],"mark":{"type":"text","fontSize":21,"color":"#1a1a1a"},"encoding":{"x":{"field":"a","type":"quantitative"},"text":{"field":"desc"}}},
{"transform":[{"filter":"datum.kind == 'long'"},{"calculate":"1294","as":"a"}],"mark":{"type":"text","align":"left","fontSize":21,"color":"#1a1a1a","limit":642,"ellipsis":"\u200b"},"encoding":{"x":{"field":"a","type":"quantitative"},"text":{"field":"desc"}}}
]},
{"width":846,"height":851,
"layer":[
{"data":{"values":[
{"s":"CASP3","t":"PAK1"},{"s":"CASP3","t":"LGALS3"},{"s":"CASP3","t":"BIK"},{"s":"CASP3","t":"BAX"},{"s":"CASP3","t":"ERBB3"},{"s":"CASP3","t":"CCND2"},{"s":"CASP3","t":"PLAT"},{"s":"CASP3","t":"IL1A"},{"s":"CASP3","t":"CDC25B"},{"s":"CASP3","t":"GSN"},{"s":"CASP3","t":"TOP2A"},{"s":"CASP3","t":"BMF"},{"s":"CASP3","t":"BIRC3"},{"s":"CASP3","t":"DAP3"},{"s":"CASP3","t":"GADD45B"},{"s":"CASP3","t":"BCAP31"},{"s":"CASP3","t":"TSPO"},{"s":"CASP3","t":"PSEN2"},{"s":"CASP3","t":"TGFB2"},{"s":"CASP3","t":"CASP2"},{"s":"CASP3","t":"SQSTM1"},{"s":"CASP3","t":"DNM1L"},{"s":"CASP3","t":"LMNA"},{"s":"CASP3","t":"HSPB1"},{"s":"CASP3","t":"PDGFRB"},{"s":"CASP3","t":"CDK2"},{"s":"CASP3","t":"ATF3"},{"s":"CASP3","t":"DDIT3"},{"s":"CASP3","t":"BRCA1"},{"s":"CASP3","t":"CAV1"},
{"s":"IL6","t":"PAK1"},{"s":"IL6","t":"LGALS3"},{"s":"IL6","t":"BIK"},{"s":"IL6","t":"ERBB3"},{"s":"IL6","t":"CCND2"},{"s":"IL6","t":"PLAT"},{"s":"IL6","t":"GSN"},{"s":"IL6","t":"TGFB2"},{"s":"IL6","t":"SQSTM1"},{"s":"IL6","t":"LMNA"},{"s":"IL6","t":"HSPB1"},{"s":"IL6","t":"PDGFRB"},{"s":"IL6","t":"CDK2"},{"s":"IL6","t":"ATF3"},{"s":"IL6","t":"DCN"},{"s":"IL6","t":"DDIT3"},{"s":"IL6","t":"PTK2"},{"s":"IL6","t":"BRCA1"},{"s":"IL6","t":"CAV1"},{"s":"IL6","t":"BIRC3"},{"s":"IL6","t":"BMF"},{"s":"IL6","t":"SPTAN1"},{"s":"IL6","t":"BCAP31"},
{"s":"CASP8","t":"PAK1"},{"s":"CASP8","t":"LGALS3"},{"s":"CASP8","t":"BAX"},{"s":"CASP8","t":"CASP2"},{"s":"CASP8","t":"TGFB2"},{"s":"CASP8","t":"SQSTM1"},{"s":"CASP8","t":"DNM1L"},{"s":"CASP8","t":"LMNA"},{"s":"CASP8","t":"HSPB1"},{"s":"CASP8","t":"CDK2"},{"s":"CASP8","t":"DDIT3"},{"s":"CASP8","t":"BIRC3"},{"s":"CASP8","t":"GADD45B"},{"s":"CASP8","t":"TOP2A"},
{"s":"IL1B","t":"PLAT"},{"s":"IL1B","t":"ERBB3"},{"s":"IL1B","t":"IL1A"},{"s":"IL1B","t":"LGALS3"},{"s":"IL1B","t":"BIK"},{"s":"IL1B","t":"TGFB2"},{"s":"IL1B","t":"SQSTM1"},{"s":"IL1B","t":"LMNA"},{"s":"IL1B","t":"PDGFRB"},{"s":"IL1B","t":"ATF3"},{"s":"IL1B","t":"BMF"},{"s":"IL1B","t":"BIRC3"},{"s":"IL1B","t":"DDIT3"},{"s":"IL1B","t":"CDK2"},{"s":"IL1B","t":"BRCA1"},
{"s":"HGF","t":"CAV1"},{"s":"HGF","t":"PTK2"},{"s":"HGF","t":"LMNA"},{"s":"HGF","t":"PDGFRB"},{"s":"HGF","t":"CDK2"},{"s":"HGF","t":"GADD45B"},{"s":"HGF","t":"BIRC3"},{"s":"HGF","t":"ERBB3"},{"s":"HGF","t":"TGFB2"},
{"s":"CAV1","t":"PTK2"},{"s":"CAV1","t":"PDGFRB"},{"s":"CAV1","t":"CDK2"},{"s":"CAV1","t":"LMNA"},{"s":"CAV1","t":"CASP2"},{"s":"CAV1","t":"GSN"},{"s":"CAV1","t":"ERBB3"},
{"s":"BRCA1","t":"CDK2"},{"s":"BRCA1","t":"ATF3"},{"s":"BRCA1","t":"PDGFRB"},{"s":"BRCA1","t":"ERBB3"},{"s":"BRCA1","t":"CCND2"},{"s":"BRCA1","t":"EGR3"},{"s":"BRCA1","t":"BCAP31"},
{"s":"PTK2","t":"PDGFRB"},{"s":"PTK2","t":"CDK2"},{"s":"PTK2","t":"SPTAN1"},{"s":"PTK2","t":"DDIT3"},
{"s":"CDK2","t":"TOP2A"},{"s":"CDK2","t":"GSN"},{"s":"CDK2","t":"CDC25B"},{"s":"CDK2","t":"CCND2"},{"s":"CDK2","t":"ERBB3"},{"s":"CDK2","t":"PDGFRB"},
{"s":"IL1A","t":"TGFB2"},{"s":"LEF1","t":"CCND2"},{"s":"DAP3","t":"BAX"},{"s":"BMF","t":"BIK"},{"s":"BIRC3","t":"BIK"},{"s":"HMGB2","t":"TOP2A"},{"s":"BCAP31","t":"DNM1L"},{"s":"EGR3","t":"ATF3"},{"s":"GADD45B","t":"ATF3"},{"s":"GADD45B","t":"DDIT3"},{"s":"DAP3","t":"DCN"},{"s":"DCN","t":"GSN"},{"s":"RHOT2","t":"DNM1L"},{"s":"PAK1","t":"PDGFRB"},{"s":"LGALS3","t":"DCN"},{"s":"ATF3","t":"GSN"},{"s":"PLAT","t":"DCN"},{"s":"BIK","t":"PDGFRB"},{"s":"LEF1","t":"BRCA1"},
{"s":"IL1A","t":"PLAT"},{"s":"PLAT","t":"CCND2"},{"s":"IL1A","t":"CDC25B"},{"s":"CDC25B","t":"GSN"},{"s":"GSN","t":"TOP2A"},{"s":"BIK","t":"BAX"},{"s":"BAX","t":"CASP2"},{"s":"CASP2","t":"TGFB2"},{"s":"TGFB2","t":"SQSTM1"},{"s":"SQSTM1","t":"DNM1L"},{"s":"DNM1L","t":"LMNA"},{"s":"LMNA","t":"HSPB1"},{"s":"HSPB1","t":"PDGFRB"},{"s":"PDGFRB","t":"ATF3"},{"s":"CDK2","t":"DCN"},{"s":"ATF3","t":"DDIT3"},{"s":"DDIT3","t":"BRCA1"},{"s":"BRCA1","t":"HGF"},{"s":"IL1B","t":"CASP3"},{"s":"PSEN2","t":"CASP8"},{"s":"HGF","t":"IL1B"},{"s":"CASP8","t":"IL6"},{"s":"CASP8","t":"IL1B"},{"s":"IL6","t":"CASP3"},{"s":"CASP3","t":"RHOT2"}
]},"transform":[{"lookup":"s","from":{"data":{"name":"nodes"},"key":"name","fields":["x","y"]},"as":["x1","y1"]},{"lookup":"t","from":{"data":{"name":"nodes"},"key":"name","fields":["x","y"]},"as":["x2","y2"]}],"mark":{"type":"rule","color":"#ABABAB","strokeWidth":1},"encoding":{"x":{"field":"x1","type":"quantitative","scale":{"domain":[-57.6,1566.7],"nice":false,"zero":false},"axis":null},"y":{"field":"y1","type":"quantitative","scale":{"domain":[1568,-208.8],"nice":false,"zero":false},"axis":null},"x2":{"field":"x2"},"y2":{"field":"y2"}}},
{"data":{"name":"nodes"},"mark":{"type":"point","filled":true,"size":2304,"opacity":1,"shape":"M-1,0A1,0.66 0 1,1 1,0A1,0.66 0 1,1 -1,0Z"},"encoding":{"x":{"field":"x","type":"quantitative","axis":null},"y":{"field":"y","type":"quantitative","axis":null},"fill":{"field":"reg","type":"nominal","scale":{"domain":["up","down"],"range":["#FF3030","#3333F5"]},"legend":null}}},
{"data":{"name":"nodes"},"mark":{"type":"text","fontSize":12,"fontWeight":"bold","color":"black"},"encoding":{"x":{"field":"x","type":"quantitative","axis":null},"y":{"field":"y","type":"quantitative","axis":null},"text":{"field":"name"}}},
{"data":{"values":[{"t":"D","x":-42,"y":31}]},"mark":{"type":"text","align":"left","baseline":"alphabetic","fontSize":65,"color":"black"},"encoding":{"x":{"field":"x","type":"quantitative","axis":null},"y":{"field":"y","type":"quantitative","axis":null},"text":{"field":"t"}}}
]}
],"spacing":0,"bounds":"flush","resolve":{"scale":{"fill":"independent"}}}
]}
